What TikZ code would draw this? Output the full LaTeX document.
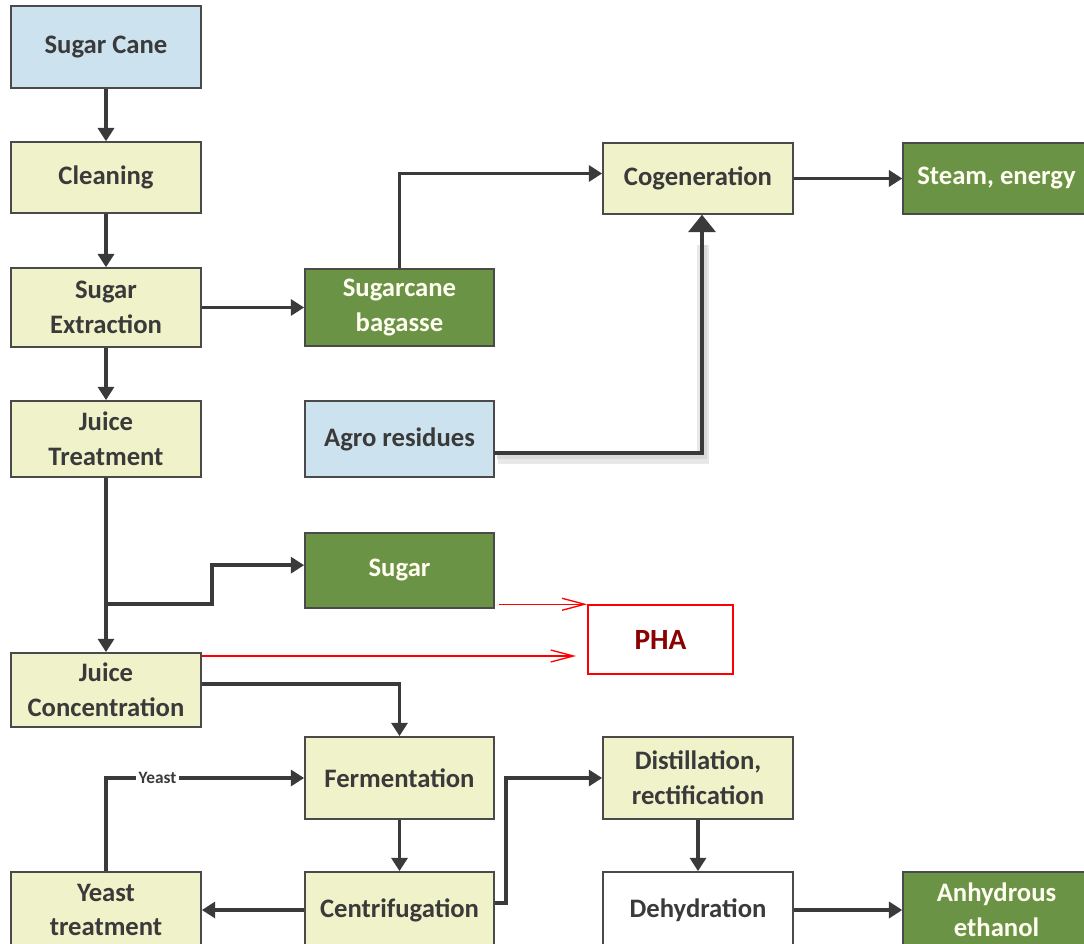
\documentclass[tikz,border=0pt]{standalone}
\usepackage{fontspec}
\setmainfont{Carlito}
\usetikzlibrary{arrows.meta,calc}
\definecolor{inkgray}{HTML}{3A3A3A}
\definecolor{edgegray}{HTML}{4A4A4A}
\definecolor{paleyellow}{HTML}{F0F2CA}
\definecolor{paleblue}{HTML}{CCE2EE}
\definecolor{leafgreen}{HTML}{6A9345}
\definecolor{phared}{HTML}{8B0000}
\begin{document}
\begin{tikzpicture}[x=0.75pt,y=-0.75pt,
  box/.style={rectangle,draw=edgegray,line width=1.3pt,align=center,
    text=inkgray,font=\bfseries\fontsize{20}{26}\selectfont,
    minimum width=142.5pt,inner sep=2pt},
  procbox/.style={box,fill=paleyellow},
  feedbox/.style={box,fill=paleblue},
  prodbox/.style={box,fill=leafgreen,text=white!94!yellow},
  plainbox/.style={box,fill=white},
  arr/.style={draw=inkgray,line width=2.8pt,-{Triangle[length=10pt,width=12pt]}},
  redarr/.style={draw=red,line width=1pt,-{Straight Barb[length=17pt,width=9pt]}},
  tag/.style={fill=white,inner sep=2pt,text=inkgray,font=\bfseries\fontsize{13}{15}\selectfont}
]
\useasboundingbox (0,0) rectangle (1084,944);

% main process column
\node[feedbox,minimum height=61.5pt] (cane) at (106,47) {Sugar Cane};
\node[procbox,minimum height=53pt] (clean) at (106,177.5) {Cleaning};
\node[procbox,minimum height=59pt] (extr) at (106,307.5) {Sugar\\Extraction};
\node[procbox,minimum height=57pt] (jtreat) at (106,439) {Juice\\Treatment};
\node[procbox,minimum height=55.5pt] (jconc) at (106,690) {Juice\\Concentration};
\node[procbox,minimum height=57pt] (ytreat) at (106,910) {Yeast\\treatment};

% second column
\node[prodbox,minimum height=58pt,minimum width=141.75pt] (bag) at (399.5,307.5) {Sugarcane\\bagasse};
\node[feedbox,minimum height=57pt,minimum width=141.75pt] (agro) at (399.5,439) {Agro residues};
\node[prodbox,minimum height=56pt,minimum width=141.75pt] (sugar) at (399.5,570.5) {Sugar};
\node[procbox,minimum height=61.5pt,minimum width=141.75pt] (ferm) at (399.5,778) {Fermentation};
\node[procbox,minimum height=57pt,minimum width=141.75pt] (centr) at (399.5,910) {Centrifugation};

% PHA target
\node[rectangle,draw=red,line width=1.1pt,fill=white,minimum width=108.75pt,
  minimum height=51.75pt,text=phared,font=\bfseries\fontsize{22}{26}\selectfont]
  (pha) at (660.5,639.5) {PHA};

% right columns
\node[procbox,minimum height=53pt] (cogen) at (698,178.5) {Cogeneration};
\node[prodbox,minimum height=53pt,minimum width=140pt] (steam) at (996.5,178.5) {Steam, energy};
\node[procbox,minimum height=61.5pt] (dist) at (698,778) {Distillation,\\rectification};
\node[plainbox,minimum height=57pt] (dehyd) at (698,910) {Dehydration};
\node[prodbox,minimum height=57pt,minimum width=140pt] (ethanol) at (996.5,910) {Anhydrous\\ethanol};

% connectors
\draw[arr] (cane) -- (clean);
\draw[arr] (clean) -- (extr);
\draw[arr] (extr) -- (jtreat);
\draw[arr] (extr.east) -- (bag.west);
\draw[arr] (bag.north) |- ([yshift=3.75pt]cogen.west);

% agro residues feed, with a soft shadow under it
\coordinate (agroOut) at (494,453);
\draw[gray!18,line width=9pt] ([shift={(4,5)}]agroOut) -| ([shift={(5,30)}]cogen.south);
\draw[gray!30,line width=5pt] ([shift={(3,3)}]agroOut) -| ([shift={(6,30)}]cogen.south);
\draw[draw=inkgray,line width=3.2pt,-{Triangle[length=13pt,width=20pt]}]
  (agroOut) -| ([xshift=3pt]cogen.south);

\draw[arr] (cogen) -- (steam);
\draw[arr] (jtreat) -- (jconc);

\coordinate (split) at (106,604);
\draw[arr] (split) -- ++(106,0) |- ([yshift=4pt]sugar.west);

\coordinate (phaIn) at (576,656);
\draw[redarr] ([xshift=3pt]sugar.east |- pha.north west) -- (pha.north west);
\draw[redarr] (jconc.north east |- phaIn) -- (phaIn);

\draw[arr] ([yshift=4.5pt]jconc.east) -| (ferm.north);
\draw[arr] (ferm) -- (centr);
\draw[arr] (centr.west) -- (ytreat.east);
\draw[arr] (ytreat.north) |- node[tag,pos=0.63] (yeastlbl) {Yeast} (ferm.west);
\draw[arr] ([yshift=5pt]centr.east) -- ++(11,0) |- (dist.west);
\draw[arr] (dist) -- (dehyd);
\draw[arr] (dehyd) -- (ethanol);
\end{tikzpicture}
\end{document}
